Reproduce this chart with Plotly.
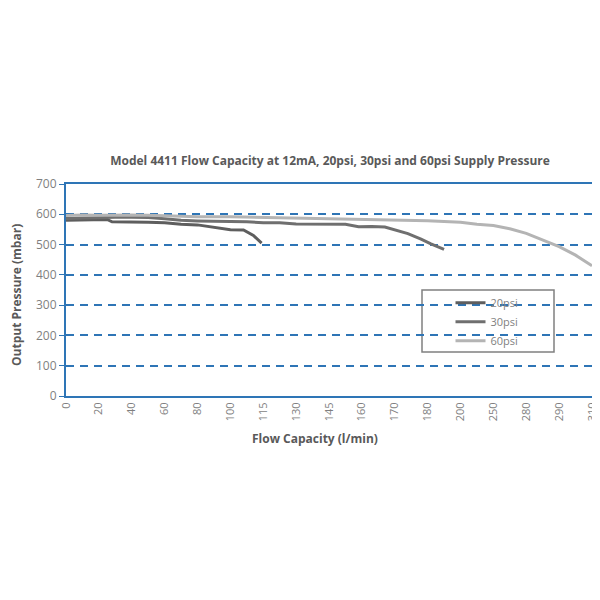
import plotly.graph_objects as go

# Category tick labels of the flow axis (l/min)
flow_labels = ["0", "20", "40", "60", "80", "100", "115", "130", "145", "160",
               "170", "180", "200", "250", "280", "290", "310"]

# Series positions along the category axis (category index units) and pressures (mbar)
psi20_pos = [0, 0.5, 1.0, 1.25, 1.4, 2.0, 2.5, 3.0, 3.5, 4.0, 4.5, 5.0, 5.4, 5.7, 5.95]
psi20_val = [580, 581, 583, 583, 575, 575, 574, 572, 567, 565, 557, 549, 548, 530, 505]

psi30_pos = [0, 0.5, 1, 1.5, 2, 2.5, 3, 3.5, 4, 4.5, 5, 5.5, 6, 6.5, 7, 7.5, 8, 8.5,
             8.9, 9.3, 9.7, 10.0, 10.4, 10.8, 11.1, 11.5]
psi30_val = [586, 588, 589, 590, 590, 589, 585, 580, 578, 577, 577, 575, 572, 572,
             568, 567, 567, 567, 559, 560, 558, 548, 536, 518, 502, 484]

psi60_pos = [0, 0.5, 1, 1.5, 2, 2.5, 3, 3.5, 4, 5, 6, 7, 8, 9, 10, 11, 12, 12.5,
             13, 13.5, 14, 14.5, 15, 15.5, 16]
psi60_val = [596, 598, 597, 598, 598, 597, 595, 593, 592, 592, 590, 589, 587, 585,
             582, 579, 574, 567, 563, 552, 537, 515, 493, 465, 430]

series_names = ["20psi", "30psi", "60psi"]
series_colors = ["#5e5e5e", "#6f6f6f", "#b4b4b4"]

blue = "#2e75b6"
gray_text = "#7f7f7f"
title_gray = "#595959"
font_family = "Open Sans, Noto Sans, sans-serif"

W, H = 592, 592

fig = go.Figure()
for name, xs, ys, col in zip(series_names,
                             [psi20_pos, psi30_pos, psi60_pos],
                             [psi20_val, psi30_val, psi60_val],
                             series_colors):
    fig.add_trace(go.Scatter(x=xs, y=ys, mode="lines", name=name,
                             line=dict(color=col, width=3)))

fig.update_layout(
    width=W, height=H,
    paper_bgcolor="white", plot_bgcolor="white",
    margin=dict(l=58, r=8, t=176, b=204, autoexpand=False),
    font=dict(family=font_family, color=gray_text, size=11),
    title=dict(text="<b>Model 4411 Flow Capacity at 12mA, 20psi, 30psi and 60psi Supply Pressure</b>",
               x=322 / W, xanchor="center", y=1 - 153 / H, yanchor="middle",
               font=dict(size=12, color=title_gray)),
    showlegend=True,
    legend=dict(x=0.731, y=0.508, xanchor="left", yanchor="top",
                bgcolor="rgba(0,0,0,0)", borderwidth=0,
                font=dict(size=11, color=gray_text), tracegroupgap=0,
                itemwidth=30),
)

fig.update_xaxes(
    range=[0, 16], tickmode="array", tickvals=list(range(len(flow_labels))),
    ticktext=flow_labels, tickangle=-90, showgrid=False, zeroline=False,
    showline=True, linecolor=blue, linewidth=2, mirror=True, ticks="",
    tickfont=dict(size=11, color=gray_text), automargin=False,
    ticklabeloverflow="allow",
)

fig.update_yaxes(
    range=[0, 700], tickmode="linear", tick0=0, dtick=100,
    showgrid=True, gridcolor=blue, gridwidth=1.5, griddash="8px,6px",
    zeroline=False, showline=True, linecolor=blue, linewidth=2, mirror=True,
    ticks="outside", ticklen=5, tickcolor=blue, tickwidth=1,
    tickfont=dict(size=12, color=gray_text), automargin=False,
)

# Axis titles
fig.add_annotation(text="<b>Flow Capacity (l/min)</b>", xref="paper", yref="paper",
                   x=(315 - 66) / 526, y=-(438 - 396) / 212, xanchor="center", yanchor="middle",
                   showarrow=False, font=dict(size=12, color=title_gray))
fig.add_annotation(text="<b>Output Pressure (mbar)</b>", xref="paper", yref="paper",
                   x=-(66 - 16) / 526, y=(396 - 295) / 212, xanchor="center", yanchor="middle",
                   textangle=-90, showarrow=False, font=dict(size=12, color=title_gray))

# Legend frame
fig.add_shape(type="rect", xref="paper", yref="paper",
              x0=(422 - 66) / 526, x1=(554 - 66) / 526,
              y0=(396 - 352) / 212, y1=(396 - 290) / 212,
              line=dict(color="#808080", width=1.5), fillcolor="white", layer="below")

fig.write_html("out.html")
